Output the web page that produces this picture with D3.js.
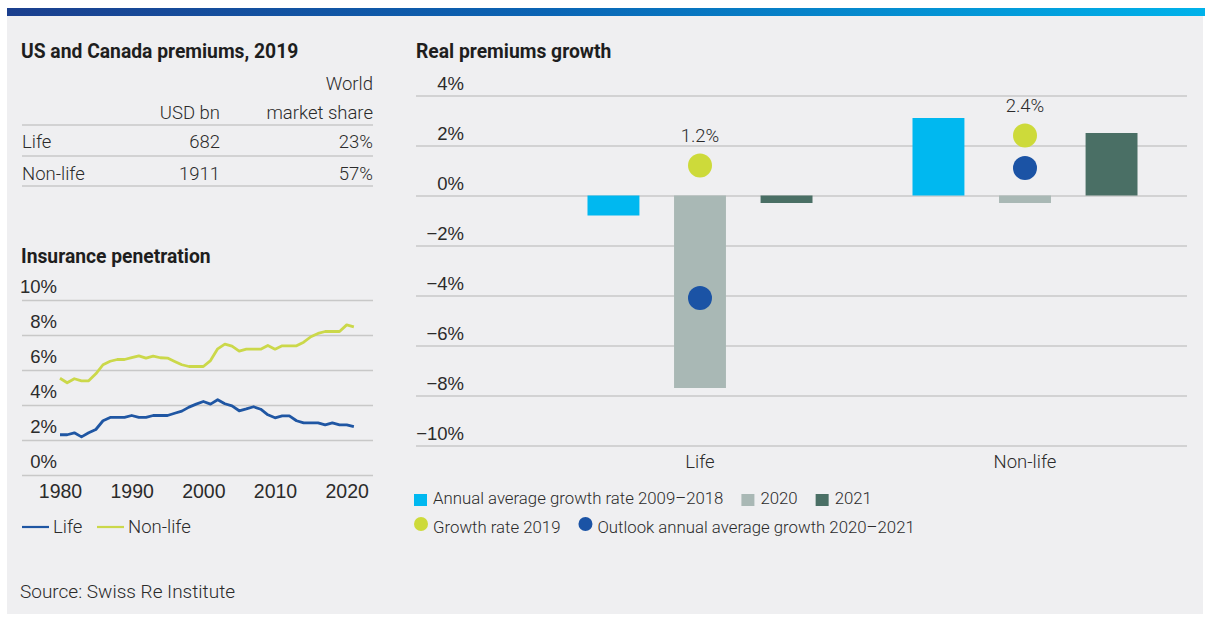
<!DOCTYPE html>
<html>
<head>
<meta charset="utf-8">
<script src="https://cdn.jsdelivr.net/npm/d3@7"></script>
<style>
  html, body { margin: 0; padding: 0; background: #ffffff; }
  svg { display: block; font-family: Roboto, "Liberation Sans", sans-serif; }
  .body-text { font-weight: 300; fill: #2b2b2b; }
  .title { font-weight: 700; fill: #1e1e1e; }
</style>
</head>
<body>
<svg id="chart" width="1205" height="617"></svg>
<script>
// ---- Table: US and Canada premiums, 2019 ----
const tableSegments = ["Life", "Non-life"];
const premiumsUsdBn = [682, 1911];
const worldMarketShare = [23, 57];

// ---- Insurance penetration (% of GDP), 1980–2021 ----
const penetrationYears = d3.range(1980, 2022);
const lifePenetration = [
  2.30, 2.30, 2.41, 2.18, 2.41, 2.60, 3.10, 3.29, 3.29, 3.29,
  3.40, 3.29, 3.29, 3.40, 3.40, 3.40, 3.53, 3.65, 3.88, 4.05,
  4.20, 4.05, 4.30, 4.07, 3.95, 3.67, 3.78, 3.90, 3.76, 3.44,
  3.27, 3.38, 3.38, 3.10, 2.98, 2.98, 2.98, 2.87, 2.98, 2.87,
  2.87, 2.77
];
const nonLifePenetration = [
  5.53, 5.27, 5.50, 5.38, 5.38, 5.78, 6.30, 6.50, 6.60, 6.60,
  6.71, 6.81, 6.68, 6.79, 6.70, 6.68, 6.49, 6.30, 6.20, 6.20,
  6.20, 6.54, 7.21, 7.48, 7.36, 7.08, 7.19, 7.19, 7.19, 7.40,
  7.19, 7.38, 7.38, 7.38, 7.59, 7.90, 8.09, 8.20, 8.20, 8.20,
  8.58, 8.47
];
const penetrationTicks = [0, 2, 4, 6, 8, 10];
const yearTicks = [1980, 1990, 2000, 2010, 2020];

// ---- Real premiums growth (%) ----
const growthCategories = ["Life", "Non-life"];
const barSeries = ["Annual average growth rate 2009–2018", "2020", "2021"];
const avgGrowth2009to2018 = [-0.8, 3.1];
const growth2020 = [-7.7, -0.3];
const growth2021 = [-0.3, 2.5];
const growthRate2019 = [1.2, 2.4];
const outlook2020to2021 = [-4.1, 1.1];
const growthTicks = [4, 2, 0, -2, -4, -6, -8, -10];

const barColors = ["#00b8f0", "#a9b8b5", "#4a6f65"];
const dot2019Color = "#cdda3a";
const dotOutlookColor = "#1b53a5";
const lifeLineColor = "#1f56a3";
const nonLifeLineColor = "#cbd84a";
const gridColor = "#c8c8c8";

const titleSize = "19.3px";
const bodySize = "18.5px";
const legendSize = "16.8px";

const svg = d3.select("#chart");

// Panel background and top gradient strip
const defs = svg.append("defs");
const grad = defs.append("linearGradient").attr("id", "topStrip")
  .attr("x1", "0%").attr("x2", "100%").attr("y1", "0%").attr("y2", "0%");
grad.append("stop").attr("offset", "0%").attr("stop-color", "#1b3f8e");
grad.append("stop").attr("offset", "45%").attr("stop-color", "#0a64b4");
grad.append("stop").attr("offset", "100%").attr("stop-color", "#00b2ea");

svg.append("rect").attr("x", 7).attr("y", 16).attr("width", 1196).attr("height", 598)
  .attr("fill", "#efeff1");
svg.append("rect").attr("x", 7).attr("y", 8).attr("width", 1198).attr("height", 8)
  .attr("fill", "url(#topStrip)");

// ---------------- Table ----------------
const table = svg.append("g");
table.append("text").attr("class", "title").attr("x", 21).attr("y", 58)
  .style("font-size", titleSize).text("US and Canada premiums, 2019");

const colUsd = 220, colShare = 373, tableLeft = 21;
table.append("text").attr("class", "body-text").attr("x", colShare).attr("y", 90)
  .attr("text-anchor", "end").style("font-size", bodySize).text("World");
table.append("text").attr("class", "body-text").attr("x", colUsd).attr("y", 119)
  .attr("text-anchor", "end").style("font-size", bodySize).text("USD bn");
table.append("text").attr("class", "body-text").attr("x", colShare).attr("y", 119)
  .attr("text-anchor", "end").style("font-size", bodySize).text("market share");

const rowLines = [125, 156, 186];
rowLines.forEach(y => table.append("line")
  .attr("x1", tableLeft + 1).attr("x2", colShare).attr("y1", y).attr("y2", y)
  .attr("stroke", gridColor).attr("stroke-width", 1.5));

const rowBaselines = [148, 180];
tableSegments.forEach((seg, i) => {
  const y = rowBaselines[i];
  table.append("text").attr("class", "body-text").attr("x", tableLeft + 1).attr("y", y)
    .style("font-size", bodySize).text(seg);
  table.append("text").attr("class", "body-text").attr("x", colUsd).attr("y", y)
    .attr("text-anchor", "end").style("font-size", bodySize).text(premiumsUsdBn[i]);
  table.append("text").attr("class", "body-text").attr("x", colShare).attr("y", y)
    .attr("text-anchor", "end").style("font-size", bodySize).text(worldMarketShare[i] + "%");
});

// ---------------- Insurance penetration line chart ----------------
const pen = svg.append("g");
pen.append("text").attr("class", "title").attr("x", 21).attr("y", 263)
  .style("font-size", titleSize).text("Insurance penetration");

const px = d3.scaleLinear().domain([1980, 2020]).range([60, 346.7]);
const py = d3.scaleLinear().domain([0, 10]).range([475, 300]);
const penLeft = 22, penRight = 373;

const penAxis = pen.append("g").attr("transform", `translate(${penRight},0)`)
  .call(d3.axisLeft(py).tickValues(penetrationTicks).tickSize(penRight - penLeft)
    .tickFormat(d => d + "%"));
penAxis.select(".domain").remove();
penAxis.selectAll(".tick line").attr("stroke", gridColor).attr("stroke-width", 1.5);
penAxis.selectAll(".tick text")
  .attr("class", "body-text")
  .attr("x", 57 - penRight).attr("dy", -8)
  .attr("text-anchor", "end")
  .style("font-size", bodySize).style("font-family", null);

const penXAxis = pen.append("g").attr("transform", "translate(0,498)")
  .call(d3.axisBottom(px).tickValues(yearTicks).tickSize(0).tickFormat(d3.format("d")));
penXAxis.select(".domain").remove();
penXAxis.selectAll(".tick text").attr("class", "body-text").attr("y", 0).attr("dy", 0)
  .style("font-size", "19.5px").style("font-family", null);

const penLine = d3.line().x((d, i) => px(penetrationYears[i])).y(d => py(d));
pen.append("path").datum(nonLifePenetration).attr("d", penLine)
  .attr("fill", "none").attr("stroke", nonLifeLineColor).attr("stroke-width", 2.8)
  .attr("stroke-linejoin", "round");
pen.append("path").datum(lifePenetration).attr("d", penLine)
  .attr("fill", "none").attr("stroke", lifeLineColor).attr("stroke-width", 2.8)
  .attr("stroke-linejoin", "round");

// Line legend
const penLegend = [
  { label: "Life", color: lifeLineColor, x: 22 },
  { label: "Non-life", color: nonLifeLineColor, x: 97 }
];
penLegend.forEach(d => {
  pen.append("line").attr("x1", d.x).attr("x2", d.x + 27).attr("y1", 527).attr("y2", 527)
    .attr("stroke", d.color).attr("stroke-width", 2.2);
  pen.append("text").attr("class", "body-text").attr("x", d.x + 31).attr("y", 533)
    .style("font-size", bodySize).text(d.label);
});

// ---------------- Real premiums growth bar chart ----------------
const gr = svg.append("g");
gr.append("text").attr("class", "title").attr("x", 416).attr("y", 58)
  .style("font-size", titleSize).text("Real premiums growth");

const gy = d3.scaleLinear().domain([-10, 4]).range([445.5, 95.5]);
const gLeft = 416, gRight = 1187;
const gx0 = d3.scaleBand().domain(growthCategories).range([537.5, 1187.5]).padding(0);
const gx1 = d3.scaleBand().domain(barSeries).range([50, 275]).paddingInner(0.4).paddingOuter(0);

const gAxis = gr.append("g").attr("transform", `translate(${gRight},0)`)
  .call(d3.axisLeft(gy).tickValues(growthTicks).tickSize(gRight - gLeft)
    .tickFormat(d => d3.format("d")(d) + "%"));
gAxis.select(".domain").remove();
gAxis.selectAll(".tick line").attr("stroke", gridColor).attr("stroke-width", 1.5);
gAxis.selectAll(".tick text")
  .attr("class", "body-text")
  .attr("x", 464 - gRight).attr("dy", -6.5)
  .attr("text-anchor", "end")
  .style("font-size", bodySize).style("font-family", null);

const barValues = [avgGrowth2009to2018, growth2020, growth2021];
const barData = [];
growthCategories.forEach((cat, ci) => {
  barSeries.forEach((s, si) => {
    barData.push({ cat, series: s, value: barValues[si][ci], color: barColors[si] });
  });
});
gr.append("g").selectAll("rect").data(barData).join("rect")
  .attr("x", d => gx0(d.cat) + gx1(d.series))
  .attr("width", gx1.bandwidth())
  .attr("y", d => gy(Math.max(0, d.value)))
  .attr("height", d => Math.abs(gy(d.value) - gy(0)))
  .attr("fill", d => d.color);

const catCenter = c => gx0(c) + gx0.bandwidth() / 2;
gr.append("g").selectAll("circle.outlook").data(growthCategories).join("circle")
  .attr("cx", catCenter).attr("cy", (c, i) => gy(outlook2020to2021[i]))
  .attr("r", 12).attr("fill", dotOutlookColor);
gr.append("g").selectAll("circle.g2019").data(growthCategories).join("circle")
  .attr("cx", catCenter).attr("cy", (c, i) => gy(growthRate2019[i]))
  .attr("r", 12).attr("fill", dot2019Color);
gr.append("g").selectAll("text").data(growthCategories).join("text")
  .attr("class", "body-text")
  .attr("x", catCenter).attr("y", (c, i) => gy(growthRate2019[i]) - 24)
  .attr("text-anchor", "middle").style("font-size", bodySize)
  .text((c, i) => d3.format(".1f")(growthRate2019[i]) + "%");

// Category labels
gr.append("g").selectAll("text").data(growthCategories).join("text")
  .attr("class", "body-text")
  .attr("x", catCenter).attr("y", 468)
  .attr("text-anchor", "middle").style("font-size", bodySize)
  .text(d => d);

// Legend
const legendRows = [
  { y: 504, items: barSeries.map((s, i) => ({ label: s, color: barColors[i], shape: "square" })) },
  { y: 533, items: [
    { label: "Growth rate 2019", color: dot2019Color, shape: "circle" },
    { label: "Outlook annual average growth 2020–2021", color: dotOutlookColor, shape: "circle" }
  ] }
];
legendRows.forEach(row => {
  let x = 414;
  row.items.forEach(item => {
    if (item.shape === "square") {
      gr.append("rect").attr("x", x).attr("y", row.y - 10).attr("width", 13).attr("height", 12)
        .attr("fill", item.color);
    } else {
      gr.append("circle").attr("cx", x + 7).attr("cy", row.y - 9).attr("r", 7)
        .attr("fill", item.color);
    }
    const t = gr.append("text").attr("class", "body-text").attr("x", x + 19).attr("y", row.y)
      .style("font-size", legendSize).text(item.label);
    x = x + 19 + t.node().getComputedTextLength() + 18;
  });
});

// Source
svg.append("text").attr("class", "body-text").attr("x", 20).attr("y", 598)
  .style("font-size", "19px").text("Source: Swiss Re Institute");
</script>
</body>
</html>
